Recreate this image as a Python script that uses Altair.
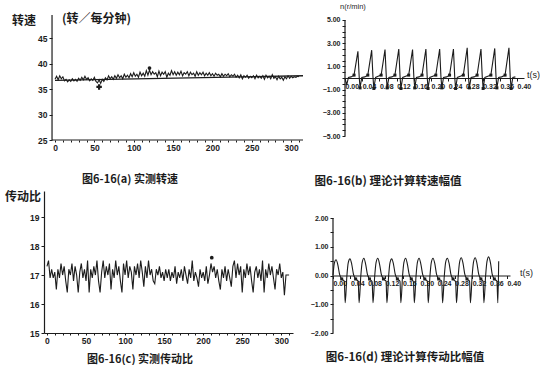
import altair as alt
import pandas as pd

INK = "#1c1c1c"
CJK = "Noto Sans CJK SC"
NUM = "Liberation Sans"

# ---------------- (a) measured speed ----------------
a_x = list(range(0, 312, 2))
a_speed = [
    36.9, 37.5, 36.8, 37.6, 37.0, 37.4, 36.6, 36.9, 36.4, 36.8, 36.5, 37.0, 36.6,
    36.9, 36.5, 37.1, 36.7, 37.3, 36.8, 37.5, 36.9, 37.2, 36.6, 37.0, 36.7, 37.3,
    36.5, 36.2, 36.8, 36.1, 36.9, 36.5, 37.2, 36.8, 37.6, 37.0,
    37.4, 36.9, 37.6, 37.1, 37.8, 37.2, 37.6, 37.0, 37.9, 37.3,
    37.7, 37.2, 38.0, 37.4, 38.2, 37.5, 37.9, 37.3, 38.3, 37.6,
    38.1, 37.5, 38.6, 37.7, 38.7, 37.8, 38.4, 37.9, 38.2, 37.4,
    38.5, 37.6, 38.3, 37.9, 38.4, 37.3, 38.1, 37.7, 38.6, 37.8,
    38.4, 37.7, 38.3, 37.8, 38.5, 37.6, 38.2, 37.9, 38.4, 37.6,
    38.3, 37.8, 38.1, 37.5, 38.4, 37.7, 38.2, 37.8, 38.3, 37.6,
    38.1, 37.7, 38.2, 37.6, 38.0, 37.5, 38.1, 37.7, 37.9, 37.4,
    38.0, 37.5, 37.9, 37.6, 38.0, 37.4, 37.8, 37.5, 37.9, 37.3,
    37.7, 37.2, 37.8, 37.0, 37.6, 37.3, 37.7, 37.1, 37.5, 37.2,
    37.6, 37.0, 37.7, 37.2, 37.5, 37.1, 37.6, 36.9, 37.7, 37.2,
    37.5, 37.0, 37.8, 37.1, 37.4, 36.8, 37.5, 37.0, 37.3, 36.7,
    37.4, 37.0, 37.6, 37.1, 37.5, 37.2, 37.4, 37.3, 37.5, 37.4,
]
a_trend_x = [0, 315]
a_trend_y = [36.7, 37.6]
a_min_x, a_min_y = [56], [35.4]
a_max_x, a_max_y = [120], [39.1]
a_xticks = list(range(0, 320, 10))
a_yticks = [25, 30, 35, 40, 45]

# ---------------- (b) theoretical speed amplitude ----------------
b_t = [0.000, 0.004, 0.008, 0.014, 0.021,
       0.030, 0.033, 0.035, 0.039, 0.046, 0.053,
       0.062, 0.065, 0.067, 0.071, 0.077, 0.084,
       0.093, 0.096, 0.098, 0.102, 0.109, 0.116,
       0.125, 0.128, 0.130, 0.134, 0.141, 0.148,
       0.157, 0.160, 0.162, 0.166, 0.172, 0.179,
       0.188, 0.191, 0.193, 0.197, 0.204, 0.211,
       0.220, 0.223, 0.225, 0.229, 0.236, 0.243,
       0.252, 0.255, 0.257, 0.261, 0.268, 0.275,
       0.284, 0.287, 0.289, 0.293, 0.300, 0.307,
       0.316, 0.319, 0.321, 0.325, 0.332, 0.339,
       0.348, 0.351, 0.353, 0.357, 0.364, 0.372,
       0.381, 0.384, 0.386, 0.390, 0.396]
b_n = [0.0, -0.6, 0.05, 0.1, 0.25,
       2.3, 0.1, -0.85, 0.05, 0.1, 0.25,
       2.4, 0.1, -0.9, 0.05, 0.15, 0.25,
       2.45, 0.1, -0.85, 0.05, 0.1, 0.25,
       2.5, 0.1, -0.9, 0.05, 0.15, 0.25,
       2.45, 0.1, -0.85, 0.05, 0.1, 0.25,
       2.5, 0.1, -0.9, 0.05, 0.15, 0.25,
       2.5, 0.1, -0.85, 0.05, 0.1, 0.25,
       2.5, 0.1, -0.9, 0.05, 0.15, 0.25,
       2.6, 0.1, -0.85, 0.05, 0.1, 0.25,
       2.5, 0.1, -0.9, 0.05, 0.15, 0.25,
       2.55, 0.1, -0.85, 0.05, 0.1, 0.25,
       2.6, 0.1, -0.9, 0.05, 0.1]
b_xticks = [0.00, 0.04, 0.08, 0.12, 0.16, 0.20, 0.24, 0.28, 0.32, 0.36, 0.40]
b_yticks = [-5, -4.5, -4, -3.5, -3, -2.5, -2, -1.5, -1, -0.5, 0,
            0.5, 1, 1.5, 2, 2.5, 3, 3.5, 4, 4.5, 5]

# ---------------- (c) measured transmission ratio ----------------
c_x = list(range(0, 312, 2))
c_ratio = [
    17.3, 17.5, 16.9, 17.2, 16.9, 17.1, 16.5,
    17.2, 16.9, 17.4, 17.0, 17.3, 16.8, 16.4,
    17.2, 17.0, 17.4, 16.8, 17.3, 17.0, 16.4,
    17.1, 17.4, 16.9, 17.2, 16.8, 17.5, 16.4,
    17.2, 16.9, 17.3, 17.0, 17.5, 16.8, 16.4,
    17.1, 17.5, 16.9, 17.3, 17.0, 17.4, 16.5,
    17.2, 16.9, 17.5, 17.0, 17.3, 16.8, 16.4,
    17.4, 17.0, 17.5, 16.9, 17.3, 17.1, 16.5,
    17.3, 17.0, 17.4, 16.9, 17.5, 17.1, 16.6,
    17.3, 16.9, 17.5, 17.0, 17.2, 16.8, 16.7,
    17.2, 17.0, 17.3, 16.9, 17.1, 16.8, 17.2,
    16.9, 17.2, 16.8, 17.1, 16.9, 17.3, 16.7,
    17.1, 16.9, 17.2, 16.8, 17.3, 17.0, 16.7,
    17.2, 16.9, 17.5, 16.8, 17.1, 16.9, 16.6,
    17.2, 16.9, 17.1, 16.8, 17.3, 16.7, 17.0,
    17.4, 17.1, 17.3, 16.9, 17.2, 16.8, 16.5,
    17.2, 16.9, 17.3, 16.8, 17.2, 16.9, 16.6,
    17.3, 17.5, 16.9, 17.4, 17.0, 17.3, 16.4,
    17.2, 16.9, 17.4, 17.0, 17.3, 16.8, 16.4,
    17.1, 17.3, 16.9, 17.2, 16.8, 17.5, 16.4,
    17.2, 16.9, 17.4, 17.0, 17.3, 16.9, 16.5,
    17.2, 17.0, 17.4, 16.9, 17.1, 16.3, 17.0,
    17.0, 17.0,
]
c_max_x, c_max_y = [211], [17.6]
c_xticks = list(range(0, 320, 10))
c_yticks = [15, 16, 17, 18, 19]

# ---------------- (d) theoretical ratio amplitude ----------------
d_t = [0.000, 0.003, 0.007, 0.011, 0.015, 0.020, 0.026, 0.028,
       0.032, 0.035, 0.039, 0.043, 0.047, 0.052, 0.058, 0.060,
       0.064, 0.067, 0.071, 0.075, 0.079, 0.084, 0.090, 0.092,
       0.096, 0.099, 0.103, 0.107, 0.111, 0.116, 0.122, 0.124,
       0.128, 0.131, 0.135, 0.139, 0.143, 0.148, 0.154, 0.156,
       0.160, 0.163, 0.167, 0.171, 0.175, 0.180, 0.185, 0.187,
       0.191, 0.194, 0.198, 0.202, 0.206, 0.211, 0.217, 0.219,
       0.223, 0.226, 0.230, 0.234, 0.238, 0.243, 0.250, 0.252,
       0.256, 0.259, 0.263, 0.267, 0.271, 0.276, 0.282, 0.284,
       0.288, 0.291, 0.295, 0.299, 0.303, 0.308, 0.314, 0.316,
       0.320, 0.323, 0.327, 0.331, 0.335, 0.340, 0.345, 0.347,
       0.351, 0.354, 0.358, 0.362, 0.366, 0.371, 0.377, 0.379,
       0.381]
d_i = [0.00, 0.42, 0.55, 0.38, 0.05, -0.12, -0.20, -0.95,
       0.00, 0.44, 0.58, 0.40, 0.05, -0.12, -0.20, -0.95,
       0.00, 0.45, 0.60, 0.40, 0.05, -0.12, -0.22, -0.95,
       0.00, 0.45, 0.60, 0.40, 0.05, -0.12, -0.20, -0.95,
       0.00, 0.44, 0.58, 0.40, 0.05, -0.12, -0.20, -0.95,
       0.00, 0.45, 0.60, 0.40, 0.05, -0.12, -0.22, -0.95,
       0.00, 0.45, 0.60, 0.40, 0.05, -0.12, -0.20, -0.95,
       0.00, 0.45, 0.60, 0.42, 0.05, -0.12, -0.20, -0.95,
       0.00, 0.46, 0.60, 0.42, 0.05, -0.12, -0.22, -0.95,
       0.00, 0.46, 0.62, 0.42, 0.05, -0.12, -0.20, -0.95,
       0.00, 0.46, 0.62, 0.42, 0.05, -0.12, -0.20, -0.95,
       0.00, 0.48, 0.65, 0.45, 0.05, -0.12, -0.20, -0.95,
       0.50]
d_xticks = b_xticks
d_yticks = [-2, -1.5, -1, -0.5, 0, 0.5, 1, 1.5, 2]

captions = ["图6-16(a) 实测转速", "图6-16(b) 理论计算转速幅值",
            "图6-16(c) 实测传动比", "图6-16(d) 理论计算传动比幅值"]


def txt(s, x, y, size, align="left", font=CJK, weight="bold"):
    return alt.Chart(pd.DataFrame({"s": [s]})).mark_text(
        align=align, baseline="middle", font=font, fontSize=size,
        fontWeight=weight, color=INK
    ).encode(text="s:N", x=alt.value(x), y=alt.value(y))


def sc(lo, hi):
    return alt.Scale(domain=[lo, hi], nice=False, zero=False)


lab = dict(labelFont=NUM, labelFontWeight="bold", labelColor=INK, tickColor=INK,
           domainColor=INK, labelOverlap=False, labelFlush=False, grid=False,
           tickWidth=1, domainWidth=1.2)


def vline(xs, y0, y1, X, Y):
    return alt.Chart(pd.DataFrame({"x": [xs], "y": [y0], "y2": [y1]})).mark_rule(
        color=INK, strokeWidth=1.2).encode(x=X, y=Y, y2="y2:Q")


def hline(x0, x1, ys, X, Y):
    return alt.Chart(pd.DataFrame({"x": [x0], "x2": [x1], "y": [ys]})).mark_rule(
        color=INK, strokeWidth=1.2).encode(x=X, x2="x2:Q", y=Y)


# ----- panel a -----
XA = alt.X("x:Q", scale=sc(-14, 315), title=None, axis=alt.Axis(
    values=a_xticks, labelExpr="datum.value % 50 == 0 ? datum.label : ''",
    domain=False, tickSize=2, labelFontSize=8.5, labelPadding=1, **lab))
YA = alt.Y("y:Q", scale=sc(25, 52.06), title=None, axis=alt.Axis(
    values=a_yticks, domain=False, offset=-8, tickSize=3, labelFontSize=8.5, **lab))
pa = alt.layer(
    alt.Chart(pd.DataFrame({"x": a_x, "y": a_speed})).mark_line(color=INK, strokeWidth=1.1).encode(x=XA, y=YA),
    alt.Chart(pd.DataFrame({"x": a_trend_x, "y": a_trend_y})).mark_line(color=INK, strokeWidth=1.4).encode(x=XA, y=YA),
    alt.Chart(pd.DataFrame({"x": a_min_x, "y": a_min_y})).mark_point(
        shape="cross", filled=True, color=INK, size=30, opacity=1).encode(x=XA, y=YA),
    alt.Chart(pd.DataFrame({"x": a_max_x, "y": a_max_y})).mark_circle(color=INK, size=14, opacity=1).encode(x=XA, y=YA),
    vline(-3.8, 25, 49.5, XA, YA),
    hline(-3.8, 315, 25, XA, YA),
    txt("转速", -8, 19, 12, align="right"),
    txt("(转／每分钟)", 18, 17, 12),
    txt(captions[0], 86, 178, 11, align="center"),
).properties(width=259, height=138)

# ----- panel b -----
XB = alt.X("x:Q", scale=sc(0, 0.416), title=None, axis=alt.Axis(
    values=b_xticks, format=".2f", labelAlign="left", offset=-62, tickSize=3,
    labelFontSize=7, labelPadding=1, **lab))
YB = alt.Y("y:Q", scale=sc(-5.34, 6.55), title=None, axis=alt.Axis(
    values=b_yticks, domain=False, tickSize=3, labelFontSize=7,
    labelExpr="(datum.value % 1 == 0 && datum.value % 2 != 0) ? format(datum.value, '.2f') : ''",
    **lab))
df_b = pd.DataFrame({"x": b_t, "y": b_n})
pb = alt.layer(
    alt.Chart(df_b).mark_line(color=INK, strokeWidth=1.1).encode(x=XB, y=YB),
    alt.Chart(df_b).transform_filter("datum.y == 0.25 || datum.y < -0.8").mark_square(
        color=INK, size=9, opacity=1).encode(x=XB, y=YB),
    vline(0, -5, 5, XB, YB),
    txt("n(r/min)", -5, 5, 7.5, font=NUM, weight="normal"),
    txt("t(s)", 182, 73, 9, font=NUM, weight="normal"),
    txt(captions[1], 43, 180, 11.5, align="center"),
).properties(width=179, height=138)

# ----- panel c -----
XC = alt.X("x:Q", scale=sc(-3.8, 315), title=None, axis=alt.Axis(
    values=c_xticks, labelExpr="datum.value % 50 == 0 ? datum.label : ''",
    tickSize=2, labelFontSize=8.5, labelPadding=1, **lab))
YC = alt.Y("y:Q", scale=sc(15, 19.9), title=None, axis=alt.Axis(
    values=c_yticks, tickSize=3, labelFontSize=8.5, **lab))
pc = alt.layer(
    alt.Chart(pd.DataFrame({"x": c_x, "y": c_ratio})).mark_line(color=INK, strokeWidth=1.1).encode(x=XC, y=YC),
    alt.Chart(pd.DataFrame({"x": c_max_x, "y": c_max_y})).mark_circle(color=INK, size=14, opacity=1).encode(x=XC, y=YC),
    txt("传动比", -39, 6, 12),
    txt(captions[2], 96, 169, 11, align="center"),
).properties(width=249, height=142)

# ----- panel d -----
XD = alt.X("x:Q", scale=sc(0, 0.407), title=None, axis=alt.Axis(
    values=d_xticks, format=".2f", labelAlign="left", offset=-57.5, tickSize=3,
    labelFontSize=7, labelPadding=1, **lab))
YD = alt.Y("y:Q", scale=sc(-2, 2.94), title=None, axis=alt.Axis(
    values=d_yticks, domain=False, tickSize=3, labelFontSize=7,
    labelExpr="datum.value % 1 == 0 ? format(datum.value, '.2f') : ''", **lab))
df_d = pd.DataFrame({"x": d_t, "y": d_i})
pd_ = alt.layer(
    alt.Chart(df_d).mark_line(color=INK, strokeWidth=1.1, interpolate="monotone").encode(x=XD, y=YD),
    alt.Chart(df_d).transform_filter("datum.y == -0.12").mark_square(
        color=INK, size=9, opacity=1).encode(x=XD, y=YD),
    vline(0, -2, 2, XD, YD),
    txt("t(s)", 187, 82, 9, font=NUM, weight="normal"),
    txt(captions[3], 72, 167, 11.5, align="center"),
).properties(width=177, height=142)

chart = alt.vconcat(
    alt.hconcat(pa, pb, spacing=8),
    alt.hconcat(pc, pd_, spacing=17),
    spacing=3,
    background="white",
    padding={"left": 5, "top": 2, "right": 0, "bottom": 0},
).configure_view(stroke=None)

chart.save("out.html", embed_options={"renderer": "svg", "actions": False})
